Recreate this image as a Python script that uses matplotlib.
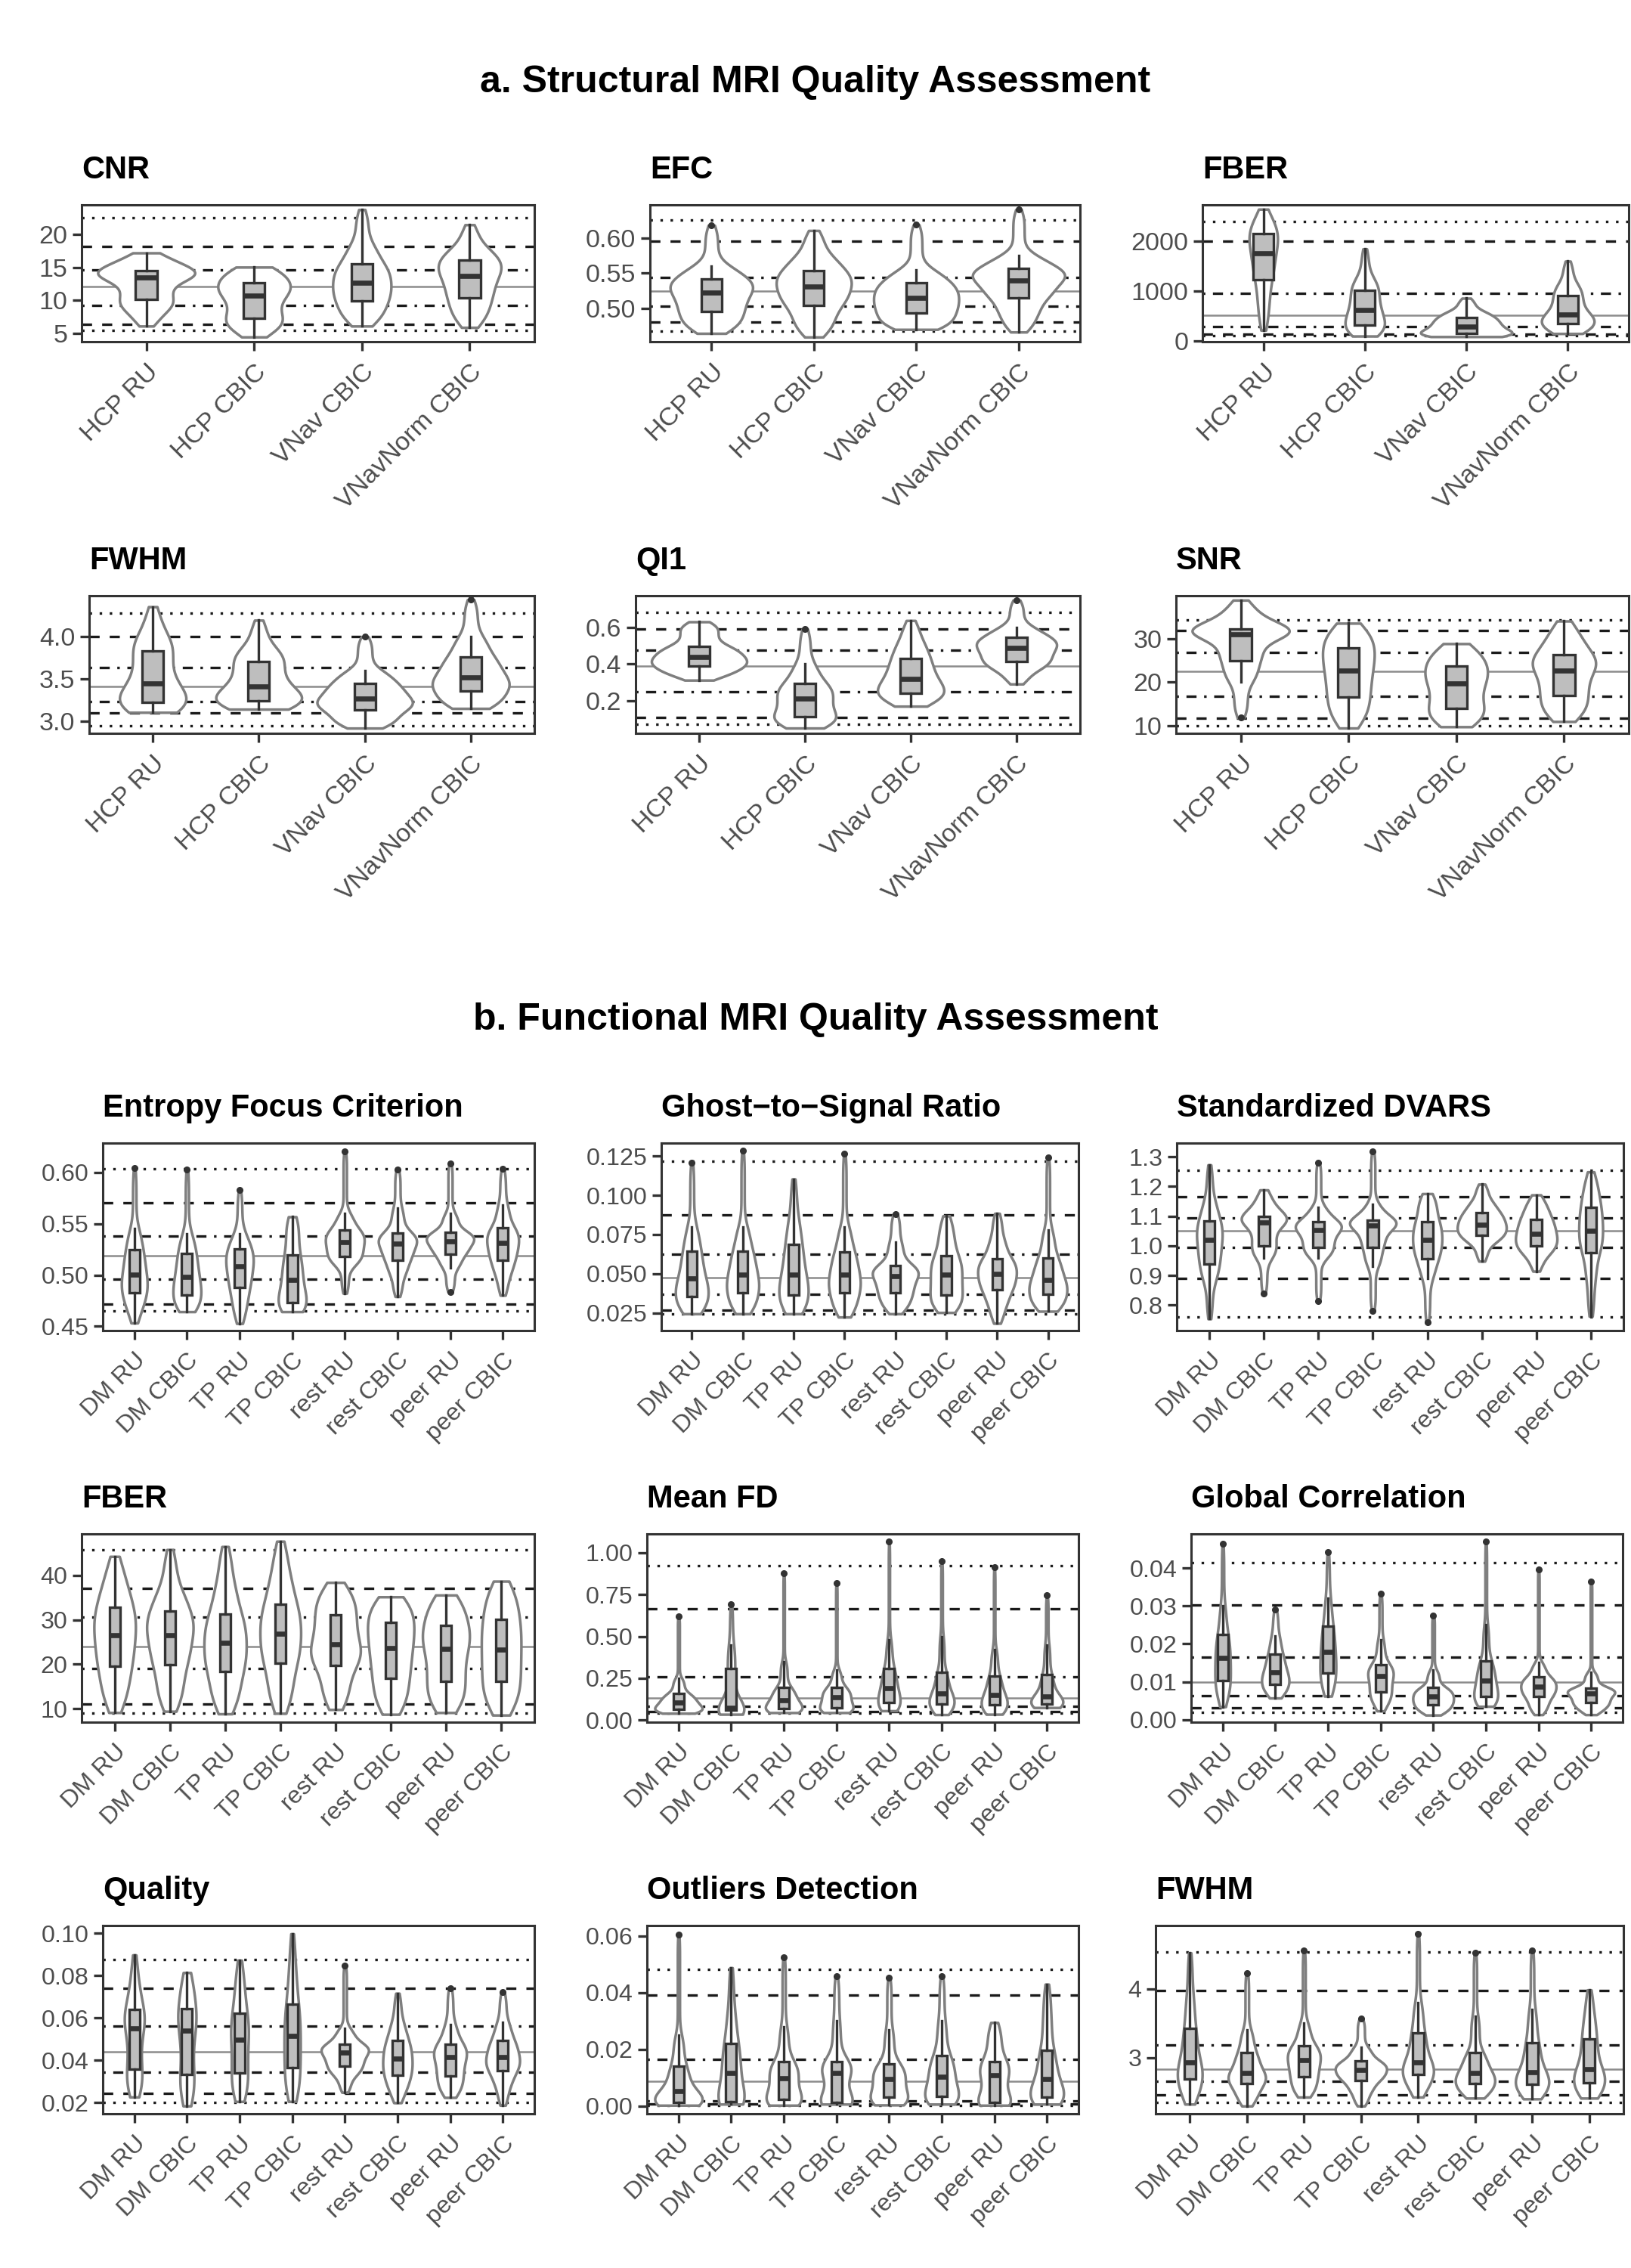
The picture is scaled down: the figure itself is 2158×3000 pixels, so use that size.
import math
import numpy as np
import matplotlib
matplotlib.use("Agg")
import matplotlib.pyplot as plt

plt.rcParams['font.family'] = ['Liberation Sans', 'DejaVu Sans']

W, H = 2158, 3000

struct_groups = ["HCP RU", "HCP CBIC", "VNav CBIC", "VNavNorm CBIC"]
func_groups = ["DM RU", "DM CBIC", "TP RU", "TP CBIC",
               "rest RU", "rest CBIC", "peer RU", "peer CBIC"]

# Each group: [min, p10, q1, median, q3, p90, max]
# Reference lines: [mean, dotdash_lo, dotdash_hi, dashed_lo, dashed_hi, dotted_lo, dotted_hi]

cnr = [[6.1, 8.5, 10.1, 13.45, 14.5, 15.8, 17.2],
       [4.45, 6.0, 7.3, 10.7, 12.66, 14.2, 15.04],
       [6.1, 7.8, 9.88, 12.66, 15.52, 18.5, 23.77],
       [5.9, 8.0, 10.4, 13.73, 16.11, 17.8, 21.47]]
cnr_ref = [12.06, 9.29, 14.64, 6.39, 18.13, 5.40, 22.58]

efc_s = [[0.4648, 0.478, 0.4956, 0.5222, 0.5419, 0.560, 0.6178],
         [0.4596, 0.48, 0.5048, 0.5307, 0.5537, 0.575, 0.6104],
         [0.4704, 0.478, 0.4933, 0.5148, 0.5363, 0.555, 0.6185],
         [0.4667, 0.49, 0.5148, 0.54, 0.5567, 0.575, 0.64]]
efc_s_ref = [0.5248, 0.503, 0.5437, 0.4807, 0.5948, 0.4678, 0.6252]

fber_s = [[220, 700, 1231, 1759, 2154, 2350, 2646],
          [103, 180, 323, 621, 1026, 1250, 1851],
          [92, 110, 150, 300, 470, 600, 862],
          [154, 220, 359, 538, 913, 1150, 1605]]
fber_s_ref = [518, 287, 965, 140, 2000, 105, 2400]

fwhm_s = [[3.108, 3.16, 3.225, 3.446, 3.831, 4.0, 4.348],
          [3.145, 3.19, 3.246, 3.415, 3.708, 3.85, 4.19],
          [2.923, 3.0, 3.138, 3.268, 3.446, 3.6, 3.994],
          [3.154, 3.22, 3.36, 3.523, 3.76, 4.0, 4.431]]
fwhm_s_ref = [3.409, 3.231, 3.631, 3.098, 4.0, 2.954, 4.271]

qi1 = [[0.311, 0.35, 0.386, 0.436, 0.497, 0.58, 0.629],
       [0.05, 0.08, 0.11, 0.21, 0.293, 0.40, 0.59],
       [0.169, 0.21, 0.24, 0.319, 0.431, 0.52, 0.636],
       [0.29, 0.37, 0.414, 0.486, 0.543, 0.60, 0.747]]
qi1_ref = [0.386, 0.246, 0.476, 0.107, 0.59, 0.07, 0.681]

snr = [[11.8, 20.0, 24.8, 31.0, 32.2, 35.0, 38.8],
       [9.4, 12.5, 16.45, 22.65, 27.9, 31.0, 33.5],
       [9.7, 11.5, 14.0, 19.6, 23.7, 26.5, 28.8],
       [10.9, 13.5, 16.9, 22.65, 26.3, 30.0, 34.0]]
snr_ref = [22.47, 16.63, 26.75, 11.69, 31.87, 9.88, 34.28]

efc_f = [[0.4532, 0.47, 0.4826, 0.5006, 0.5244, 0.545, 0.6042],
         [0.4642, 0.47, 0.4802, 0.4979, 0.5212, 0.54, 0.603],
         [0.4527, 0.47, 0.4876, 0.5084, 0.5251, 0.54, 0.5828],
         [0.4642, 0.468, 0.4728, 0.4949, 0.5195, 0.545, 0.5568],
         [0.4822, 0.51, 0.5182, 0.5322, 0.544, 0.56, 0.6209],
         [0.479, 0.50, 0.5146, 0.5305, 0.5411, 0.565, 0.603],
         [0.4834, 0.507, 0.5202, 0.533, 0.5416, 0.56, 0.6091],
         [0.4802, 0.50, 0.5146, 0.5317, 0.546, 0.568, 0.6034]]
efc_f_ref = [0.519, 0.4957, 0.5379, 0.4716, 0.5705, 0.465, 0.6037]

gsr = [[0.0245, 0.029, 0.0357, 0.0469, 0.0645, 0.08, 0.121],
       [0.0245, 0.03, 0.0381, 0.0493, 0.0645, 0.08, 0.1285],
       [0.0245, 0.029, 0.0365, 0.0493, 0.0685, 0.085, 0.1104],
       [0.0224, 0.029, 0.0381, 0.0493, 0.064, 0.08, 0.1264],
       [0.0245, 0.031, 0.0381, 0.0485, 0.0554, 0.07, 0.088],
       [0.0253, 0.03, 0.0365, 0.0493, 0.0613, 0.075, 0.0869],
       [0.0184, 0.03, 0.0397, 0.0501, 0.0597, 0.072, 0.0885],
       [0.0261, 0.03, 0.0368, 0.0461, 0.0602, 0.078, 0.124]]
gsr_ref = [0.0474, 0.037, 0.0624, 0.0266, 0.0874, 0.0245, 0.1216]

dvars = [[0.7535, 0.88, 0.9394, 1.0196, 1.0846, 1.15, 1.273],
         [0.838, 0.96, 0.9985, 1.0787, 1.0998, 1.14, 1.1885],
         [0.8127, 0.96, 0.9943, 1.0534, 1.0813, 1.13, 1.2814],
         [0.7814, 0.93, 0.9943, 1.0677, 1.0872, 1.14, 1.3177],
         [0.7409, 0.89, 0.9563, 1.0196, 1.0804, 1.14, 1.1758],
         [0.9478, 1.01, 1.0365, 1.072, 1.1125, 1.15, 1.2079],
         [0.914, 0.97, 0.9985, 1.0407, 1.0897, 1.13, 1.1716],
         [0.762, 0.88, 0.9774, 1.0517, 1.1294, 1.19, 1.2493]]
dvars_ref = [1.0517, 0.9943, 1.0939, 0.8887, 1.1657, 0.7603, 1.2544]

fber_f = [[9.15, 14, 19.49, 26.59, 32.84, 38, 44.26],
          [9.43, 14, 19.94, 26.59, 31.99, 37, 45.8],
          [8.86, 13, 18.41, 24.77, 31.3, 38, 46.48],
          [8.98, 14, 20.23, 26.93, 33.58, 40, 47.67],
          [9.83, 14, 19.77, 24.49, 31.14, 35, 38.41],
          [8.75, 12, 16.82, 23.64, 29.49, 33, 35.17],
          [9.15, 12, 16.14, 23.52, 28.75, 33, 35.57],
          [8.58, 12, 16.25, 23.35, 30.17, 35, 38.69]]
fber_f_ref = [24.03, 19.09, 30.57, 11.14, 37.1, 9.03, 45.8]

meanfd = [[0.041, 0.05, 0.065, 0.106, 0.158, 0.25, 0.618],
          [0.035, 0.045, 0.06, 0.075, 0.309, 0.45, 0.694],
          [0.045, 0.05, 0.068, 0.121, 0.196, 0.35, 0.875],
          [0.045, 0.05, 0.075, 0.136, 0.196, 0.30, 0.819],
          [0.056, 0.07, 0.106, 0.189, 0.309, 0.48, 1.066],
          [0.033, 0.06, 0.098, 0.158, 0.287, 0.50, 0.95],
          [0.035, 0.05, 0.091, 0.151, 0.264, 0.42, 0.912],
          [0.075, 0.08, 0.098, 0.143, 0.271, 0.45, 0.744]]
meanfd_ref = [0.1312, 0.083, 0.261, 0.053, 0.6637, 0.041, 0.923]

gcor = [[0.0034, 0.007, 0.0103, 0.0162, 0.0224, 0.03, 0.0464],
        [0.0057, 0.0075, 0.0094, 0.0125, 0.0172, 0.022, 0.029],
        [0.0062, 0.009, 0.0123, 0.0179, 0.0247, 0.032, 0.0442],
        [0.0023, 0.005, 0.0073, 0.0115, 0.0145, 0.021, 0.0332],
        [0.0012, 0.0025, 0.004, 0.0062, 0.0085, 0.013, 0.0275],
        [0.0035, 0.0045, 0.0061, 0.0103, 0.0155, 0.025, 0.0471],
        [0.0013, 0.0035, 0.0061, 0.0087, 0.0112, 0.015, 0.0397],
        [0.0013, 0.003, 0.0045, 0.0069, 0.0084, 0.0125, 0.0365]]
gcor_ref = [0.01, 0.0064, 0.0164, 0.0032, 0.0302, 0.0019, 0.0414]

quality = [[0.0227, 0.028, 0.036, 0.0551, 0.0639, 0.075, 0.0898],
           [0.0185, 0.025, 0.0333, 0.0542, 0.0646, 0.075, 0.0815],
           [0.0206, 0.026, 0.0342, 0.0498, 0.0622, 0.075, 0.0873],
           [0.0206, 0.027, 0.0366, 0.0514, 0.0665, 0.082, 0.0998],
           [0.0249, 0.033, 0.0372, 0.0436, 0.0477, 0.055, 0.0849],
           [0.02, 0.027, 0.0329, 0.0409, 0.0495, 0.058, 0.0717],
           [0.0225, 0.027, 0.0326, 0.0415, 0.0477, 0.057, 0.0742],
           [0.0188, 0.028, 0.035, 0.0415, 0.0495, 0.058, 0.0723]]
quality_ref = [0.0442, 0.0345, 0.0561, 0.0243, 0.0742, 0.0202, 0.0877]

outliers = [[0.0003, 0.0005, 0.0014, 0.0053, 0.0141, 0.025, 0.0606],
            [0.0007, 0.0008, 0.0017, 0.0118, 0.022, 0.033, 0.0488],
            [0.0003, 0.001, 0.0023, 0.0099, 0.0157, 0.028, 0.0526],
            [0.0007, 0.0008, 0.0014, 0.0118, 0.0157, 0.03, 0.0458],
            [0.0004, 0.001, 0.0032, 0.0095, 0.015, 0.027, 0.0453],
            [0.0007, 0.0015, 0.0035, 0.0104, 0.0179, 0.03, 0.0458],
            [0.0003, 0.0005, 0.0012, 0.0108, 0.0156, 0.024, 0.0295],
            [0.0007, 0.0015, 0.0032, 0.0095, 0.0196, 0.032, 0.043]]
outliers_ref = [0.0088, 0.0019, 0.0166, 0.0007, 0.0393, 0.0003, 0.0483]

fwhm_f = [[2.326, 2.5, 2.686, 2.932, 3.424, 3.9, 4.523],
          [2.299, 2.45, 2.629, 2.78, 3.072, 3.4, 4.231],
          [2.428, 2.55, 2.723, 2.97, 3.17, 3.5, 4.561],
          [2.299, 2.5, 2.667, 2.818, 2.951, 3.15, 3.568],
          [2.428, 2.6, 2.754, 2.932, 3.36, 3.8, 4.8],
          [2.413, 2.5, 2.621, 2.78, 3.072, 3.6, 4.523],
          [2.402, 2.5, 2.61, 2.792, 3.223, 3.7, 4.561],
          [2.413, 2.5, 2.64, 2.837, 3.273, 3.6, 3.985]]
fwhm_f_ref = [2.83, 2.655, 3.189, 2.458, 3.973, 2.352, 4.534]

# y ticks per panel
cnr_ticks = [5, 10, 15, 20]
efc_s_ticks = [0.50, 0.55, 0.60]
fber_s_ticks = [0, 1000, 2000]
fwhm_s_ticks = [3.0, 3.5, 4.0]
qi1_ticks = [0.2, 0.4, 0.6]
snr_ticks = [10, 20, 30]
efc_f_ticks = [0.45, 0.50, 0.55, 0.60]
gsr_ticks = [0.025, 0.050, 0.075, 0.100, 0.125]
dvars_ticks = [0.8, 0.9, 1.0, 1.1, 1.2, 1.3]
fber_f_ticks = [10, 20, 30, 40]
meanfd_ticks = [0.00, 0.25, 0.50, 0.75, 1.00]
gcor_ticks = [0.00, 0.01, 0.02, 0.03, 0.04]
quality_ticks = [0.02, 0.04, 0.06, 0.08, 0.10]
outliers_ticks = [0.00, 0.02, 0.04, 0.06]
fwhm_f_ticks = [3, 4]

# ---------------------------------------------------------------------------
GRAY_LINE = '#7F7F7F'
DARK = '#333333'
BOXFILL = '#BEBEBE'
REFCOL = '#1A1A1A'
_erf = np.vectorize(math.erf)
WEIGHTS = [0.1, 0.15, 0.25, 0.25, 0.15, 0.1]


def density(q, grid):
    iqr = q[4] - q[2]
    h = max(0.25 * iqr, 0.02 * (q[6] - q[0]))
    d = np.zeros_like(grid)
    s2 = h * math.sqrt(2)
    for i in range(6):
        a, b = q[i], q[i + 1]
        if b <= a:
            continue
        d += WEIGHTS[i] / (b - a) * 0.5 * (_erf((grid - a) / s2) - _erf((grid - b) / s2))
    return d


def fig_rect(l, t, r, b):
    return [l / W, 1 - b / H, (r - l) / W, (b - t) / H]


def draw_panel(rect, title, groups, data, ref, ticks, fmt, ylim, fs):
    ax = fig.add_axes(fig_rect(*rect))
    n = len(groups)
    pos = np.arange(1, n + 1)
    # reference lines
    ax.axhline(ref[0], color='#8C8C8C', lw=1.8, zorder=1)
    for lo_hi, ls in [((ref[1], ref[2]), (0, (1, 3, 4, 3))),
                      ((ref[3], ref[4]), (0, (4, 4))),
                      ((ref[5], ref[6]), (0, (1, 3)))]:
        for y in lo_hi:
            ax.axhline(y, color=REFCOL, lw=2.4, linestyle=ls, zorder=1)
    # violins (area scaled)
    grids, dens = [], []
    for q in data:
        g = np.linspace(q[0], q[6], 240)
        grids.append(g)
        dens.append(density(q, g))
    dmax = max(d.max() for d in dens)
    for p, g, d in zip(pos, grids, dens):
        hw = 0.45 * d / dmax
        ax.fill_betweenx(g, p - hw, p + hw, facecolor='white',
                         edgecolor=GRAY_LINE, linewidth=2.5, zorder=2)
    # boxplots
    stats = []
    for q in data:
        q1, med, q3 = q[2], q[3], q[4]
        iqr = q3 - q1
        lo_f, hi_f = q1 - 1.5 * iqr, q3 + 1.5 * iqr
        fl = []
        wlo, whi = q[0], q[6]
        if q[0] < lo_f:
            fl.append(q[0])
            wlo = q[1] if q[1] >= lo_f else lo_f
        if q[6] > hi_f:
            fl.append(q[6])
            whi = q[5] if q[5] <= hi_f else hi_f
        stats.append(dict(med=med, q1=q1, q3=q3, whislo=wlo, whishi=whi,
                          fliers=np.array(fl)))
    ax.bxp(stats, positions=pos, widths=0.2, patch_artist=True,
           showcaps=False, manage_ticks=False, zorder=3,
           boxprops=dict(facecolor=BOXFILL, edgecolor=DARK, linewidth=2.4),
           medianprops=dict(color=DARK, linewidth=4.8, solid_capstyle='butt'),
           whiskerprops=dict(color=DARK, linewidth=2.4),
           flierprops=dict(marker='o', markerfacecolor=DARK,
                           markeredgecolor=DARK, markersize=5.5))
    ax.set_xlim(0.4, n + 0.6)
    ax.set_ylim(*ylim)
    ax.set_yticks(ticks)
    ax.set_yticklabels([fmt.format(t) for t in ticks])
    ax.set_xticks(pos)
    ax.set_xticklabels(groups, rotation=45, ha='right', va='top',
                       rotation_mode='anchor')
    for s in ax.spines.values():
        s.set_color(DARK)
        s.set_linewidth(2.2)
    ax.tick_params(axis='both', length=8.5, width=2.4, color=DARK,
                   labelcolor='#4D4D4D', labelsize=fs, pad=5)
    ax.tick_params(axis='x', pad=9)
    l, t, r, b = rect
    fig.text(l / W, 1 - (t - 35) / H, title, ha='left', va='baseline',
             fontsize=30, fontweight='bold', color='black')
    return ax


fig = plt.figure(figsize=(W / 100, H / 100), dpi=100)
fig.patch.set_facecolor('white')

fig.text(0.5, 1 - 122 / H, "a. Structural MRI Quality Assessment",
         ha='center', va='baseline', fontsize=36, fontweight='bold')
fig.text(0.5, 1 - 1362 / H, "b. Functional MRI Quality Assessment",
         ha='center', va='baseline', fontsize=36, fontweight='bold')

FS_S, FS_F = 24.5, 23.2

panels = [
    ((108, 271, 707, 452), "CNR", struct_groups, cnr, cnr_ref, cnr_ticks, "{:g}", (3.73, 24.48), FS_S),
    ((860, 271, 1429, 452), "EFC", struct_groups, efc_s, efc_s_ref, efc_s_ticks, "{:.2f}", (0.453, 0.6467), FS_S),
    ((1591, 271, 2155, 452), "FBER", struct_groups, fber_s, fber_s_ref, fber_s_ticks, "{:g}", (-10, 2733), FS_S),
    ((118, 788, 707, 970), "FWHM", struct_groups, fwhm_s, fwhm_s_ref, fwhm_s_ticks, "{:.1f}", (2.862, 4.477), FS_S),
    ((841, 788, 1429, 970), "QI1", struct_groups, qi1, qi1_ref, qi1_ticks, "{:.1f}", (0.0214, 0.771), FS_S),
    ((1556, 788, 2155, 970), "SNR", struct_groups, snr, snr_ref, snr_ticks, "{:g}", (8.19, 39.82), FS_S),
    ((136, 1512, 707, 1760), "Entropy Focus Criterion", func_groups, efc_f, efc_f_ref, efc_f_ticks, "{:.2f}", (0.4458, 0.6287), FS_F),
    ((875, 1512, 1427, 1760), "Ghost\u2212to\u2212Signal Ratio", func_groups, gsr, gsr_ref, gsr_ticks, "{:.3f}", (0.0138, 0.1333), FS_F),
    ((1557, 1512, 2148, 1760), "Standardized DVARS", func_groups, dvars, dvars_ref, dvars_ticks, "{:.1f}", (0.7139, 1.3465), FS_F),
    ((108, 2029, 707, 2278), "FBER", func_groups, fber_f, fber_f_ref, fber_f_ticks, "{:g}", (6.99, 49.32), FS_F),
    ((856, 2029, 1427, 2278), "Mean FD", func_groups, meanfd, meanfd_ref, meanfd_ticks, "{:.2f}", (-0.012, 1.1116), FS_F),
    ((1576, 2029, 2147, 2278), "Global Correlation", func_groups, gcor, gcor_ref, gcor_ticks, "{:.2f}", (-0.00067, 0.049), FS_F),
    ((136, 2547, 707, 2796), "Quality", func_groups, quality, quality_ref, quality_ticks, "{:.2f}", (0.0148, 0.1037), FS_F),
    ((856, 2547, 1427, 2796), "Outliers Detection", func_groups, outliers, outliers_ref, outliers_ticks, "{:.2f}", (-0.0027, 0.0637), FS_F),
    ((1529, 2547, 2148, 2796), "FWHM", func_groups, fwhm_f, fwhm_f_ref, fwhm_f_ticks, "{:g}", (2.186, 4.92), FS_F),
]

for p in panels:
    draw_panel(*p)

fig.savefig("out.png", dpi=100, facecolor='white')
